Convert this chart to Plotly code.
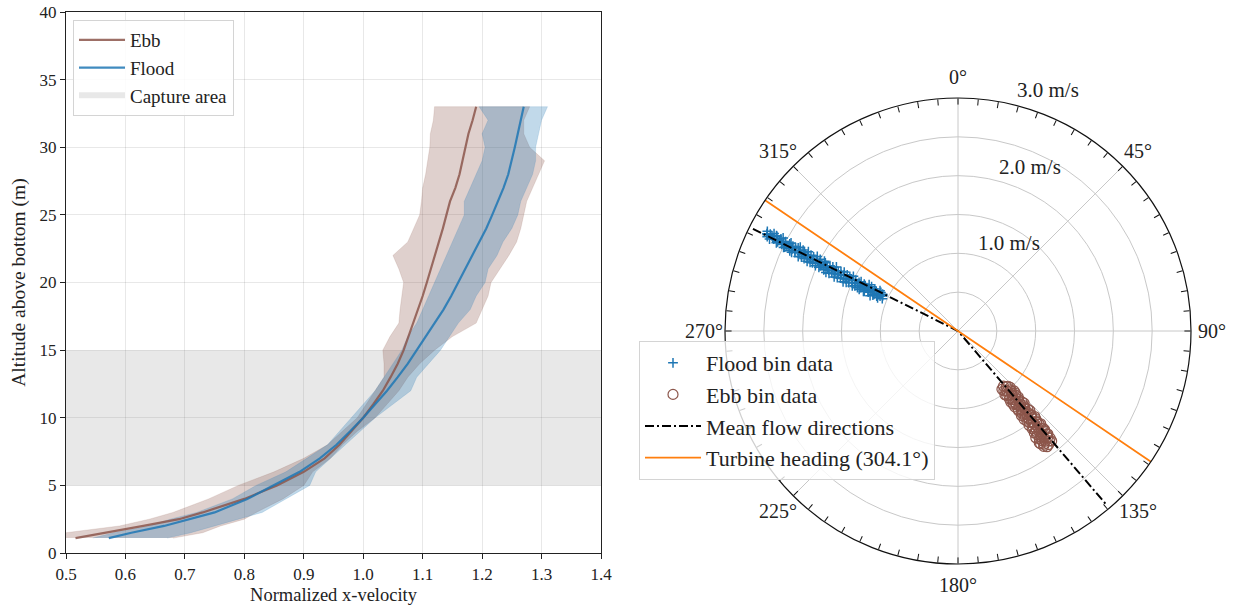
import plotly.graph_objects as go
import math

# ---------------- Left panel data: velocity profiles ----------------
altitude = [1.1, 1.5, 2, 2.5, 3, 4, 5, 6, 7, 8, 9, 10, 11, 12, 13, 14, 15, 16, 17, 18,
            19, 20, 21, 22, 23, 24, 25, 26, 27, 28, 29, 30, 31, 32, 33]

ebb_mean = [0.516, 0.57, 0.63, 0.69, 0.73, 0.80, 0.855, 0.90, 0.935, 0.96, 0.98, 1.0,
            1.017, 1.033, 1.046, 1.058, 1.068, 1.076, 1.085, 1.093, 1.100, 1.107, 1.114,
            1.12, 1.127, 1.134, 1.14, 1.146, 1.155, 1.162, 1.167, 1.172, 1.177, 1.184, 1.19]
ebb_low = [0.47, 0.50, 0.59, 0.64, 0.68, 0.74, 0.79, 0.85, 0.90, 0.94, 0.965, 0.99,
           1.005, 1.02, 1.035, 1.035, 1.033, 1.045, 1.06, 1.062, 1.065, 1.068, 1.06,
           1.05, 1.075, 1.085, 1.095, 1.098, 1.10, 1.105, 1.108, 1.112, 1.113, 1.118, 1.12]
ebb_high = [0.68, 0.73, 0.76, 0.80, 0.82, 0.865, 0.90, 0.915, 0.945, 0.965, 0.99, 1.02,
            1.04, 1.06, 1.075, 1.095, 1.12, 1.15, 1.19, 1.20, 1.21, 1.215, 1.23, 1.245,
            1.258, 1.265, 1.27, 1.275, 1.285, 1.295, 1.305, 1.28, 1.27, 1.27, 1.28]

flood_mean = [0.572, 0.61, 0.665, 0.71, 0.75, 0.805, 0.85, 0.893, 0.927, 0.955, 0.978,
              1.0, 1.02, 1.04, 1.058, 1.075, 1.09, 1.105, 1.12, 1.135, 1.148, 1.16, 1.172,
              1.184, 1.196, 1.207, 1.217, 1.227, 1.236, 1.244, 1.25, 1.255, 1.26, 1.265, 1.27]
flood_low = [0.545, 0.58, 0.64, 0.675, 0.72, 0.78, 0.82, 0.87, 0.905, 0.94, 0.96, 0.98,
             1.0, 1.02, 1.035, 1.05, 1.065, 1.075, 1.09, 1.10, 1.11, 1.12, 1.13, 1.14,
             1.15, 1.16, 1.17, 1.17, 1.18, 1.19, 1.20, 1.205, 1.20, 1.21, 1.195]
flood_high = [0.67, 0.71, 0.75, 0.79, 0.83, 0.87, 0.91, 0.92, 0.945, 0.97, 0.995, 1.02,
              1.05, 1.08, 1.09, 1.11, 1.13, 1.145, 1.16, 1.18, 1.19, 1.205, 1.21, 1.225,
              1.235, 1.25, 1.26, 1.265, 1.275, 1.285, 1.29, 1.29, 1.295, 1.30, 1.31]

capture_alt = [5, 15]
x_limits = [0.5, 1.4]
y_limits = [0, 40]

# ---------------- Right panel data: polar scatter ----------------
flood_speed = [1.06, 1.08, 1.10, 1.12, 1.13, 1.15, 1.18, 1.20, 1.22, 1.24, 1.27, 1.29,
               1.31, 1.33, 1.36, 1.38, 1.40, 1.43, 1.45, 1.47, 1.50, 1.52, 1.55, 1.57,
               1.60, 1.62, 1.65, 1.67, 1.70, 1.72, 1.75, 1.77, 1.80, 1.82, 1.85, 1.87,
               1.90, 1.92, 1.95, 1.97, 2.00, 2.03, 2.05, 2.08, 2.10, 2.13, 2.15, 2.18,
               2.20, 2.23, 2.25, 2.28, 2.30, 2.33, 2.35, 2.38, 2.40, 2.43, 2.45, 2.48,
               2.50, 2.53, 2.55, 2.58, 2.60, 2.63, 2.65, 2.68, 2.70, 2.72, 2.75, 2.77,
               1.07, 1.11, 1.14, 1.17, 1.19, 1.21, 1.25, 1.26, 1.30, 1.32, 1.35, 1.37,
               1.41, 1.42, 1.46, 1.48, 1.51, 1.54, 1.56, 1.59, 1.61, 1.64, 1.66, 1.69,
               1.71, 1.74, 1.76, 1.79, 1.81, 1.84, 1.86, 1.89, 1.91, 1.94, 1.96, 1.99,
               2.02, 2.04, 2.07, 2.09, 2.12, 2.14, 2.17, 2.19, 2.22, 2.24, 2.27, 2.29,
               2.32, 2.34, 2.37, 2.39, 2.42, 2.44, 2.47, 2.49, 2.52, 2.54, 2.57, 2.59,
               2.62, 2.64, 2.67, 2.69, 2.74, 2.76]
flood_dir = [293.1, 296.0, 294.2, 292.4, 297.3, 295.0, 293.6, 296.8, 291.9, 295.6, 294.1,
             297.5, 293.0, 296.1, 294.8, 292.8, 297.0, 295.3, 293.7, 296.5, 294.4, 297.6,
             295.1, 293.5, 296.9, 294.6, 297.4, 295.8, 293.9, 296.4, 294.9, 297.8, 295.5,
             294.1, 297.0, 295.9, 294.5, 297.2, 296.0, 294.6, 297.5, 295.4, 297.9, 296.2,
             294.9, 297.3, 295.8, 297.9, 296.6, 295.3, 297.6, 296.1, 298.0, 295.7, 297.2,
             296.4, 295.5, 297.8, 296.7, 295.8, 297.4, 296.2, 298.0, 296.9, 295.9, 297.6,
             296.5, 297.9, 296.0, 297.3, 296.8, 297.6,
             295.0, 296.6, 293.3, 295.9, 292.9, 294.9, 297.1, 293.4, 295.4, 292.7, 296.6,
             294.0, 293.3, 296.2, 295.0, 293.1, 295.9, 293.9, 296.8, 294.9, 293.2, 296.0,
             294.2, 296.9, 295.2, 293.6, 296.1, 294.7, 297.1, 295.2, 293.9, 296.4, 295.1,
             297.6, 295.4, 296.3, 294.6, 296.8, 295.1, 297.2, 296.0, 294.8, 296.5, 295.2,
             297.1, 296.0, 295.0, 296.9, 297.5, 296.2, 295.3, 297.2, 296.1, 297.4, 296.4,
             295.6, 297.1, 296.5, 297.5, 296.3, 296.9, 297.7, 296.6, 297.1, 296.3, 297.0]

ebb_speed = [0.95, 0.97, 0.99, 1.00, 1.02, 1.03, 1.05, 1.06, 1.08, 1.10, 1.11, 1.13,
             1.15, 1.16, 1.18, 1.20, 1.21, 1.23, 1.25, 1.27, 1.28, 1.30, 1.32, 1.34,
             1.35, 1.37, 1.39, 1.41, 1.43, 1.45, 1.47, 1.49, 1.51, 1.53, 1.55, 1.57,
             1.59, 1.61, 1.63, 1.65, 1.67, 1.69, 1.71, 1.73, 1.75, 1.77, 1.79, 1.81,
             1.84, 1.87, 1.85, 1.80,
             0.92, 0.94, 0.96, 0.98, 1.01, 1.04, 1.07, 1.09, 1.12, 1.14, 1.17, 1.19,
             1.22, 1.24, 1.26, 1.29, 1.31, 1.33, 1.36, 1.38, 1.40, 1.42, 1.44, 1.46,
             1.48, 1.50, 1.52, 1.54, 1.56, 1.58, 1.60, 1.62, 1.64, 1.66, 1.68, 1.70,
             1.72, 1.74, 1.76, 1.78, 1.82, 1.83, 1.86, 1.88, 1.78, 1.70]
ebb_dir = [139.0, 142.5, 137.2, 140.8, 143.6, 138.4, 141.5, 136.9, 139.9, 142.9, 138.0,
           141.1, 137.6, 140.3, 143.0, 139.1, 141.8, 137.9, 140.6, 142.6, 138.6, 141.2,
           139.4, 142.2, 138.2, 140.9, 139.3, 142.0, 138.8, 141.3, 139.6, 142.1, 138.5,
           140.7, 139.2, 141.9, 138.9, 140.4, 142.3, 139.5, 141.0, 138.7, 140.8, 142.0,
           139.3, 141.2, 139.8, 141.6, 140.2, 141.4, 143.4, 143.8,
           140.5, 143.0, 137.8, 141.0, 138.5, 142.9, 139.2, 137.3, 141.9, 143.4, 138.5,
           141.4, 143.2, 139.5, 137.5, 142.8, 138.9, 140.6, 143.1, 137.9, 140.5, 143.2,
           139.0, 142.6, 138.1, 141.0, 143.0, 138.8, 140.6, 142.8, 138.3, 141.5, 143.2,
           138.8, 142.5, 139.1, 141.5, 143.0, 138.9, 142.5, 139.3, 142.8, 139.6, 142.4,
           144.0, 143.9]

mean_flood_dir = 296.5
mean_ebb_dir = 139.5
mean_line_len = 2.95
turbine_heading = 304.1
r_max = 3.0
r_grid = [0.5, 1.0, 1.5, 2.0, 2.5, 3.0]
r_labels = [1.0, 2.0, 3.0]
spoke_angles = [0, 45, 90, 135]
angle_labels = [0, 45, 90, 135, 180, 225, 270, 315]

# ---------------- Styling ----------------
FONT = "Liberation Serif"
TXT = "#222222"
BROWN = "#8c564b"
BLUE = "#1f77b4"
ORANGE = "#ff7f0e"
W, H = 1237, 611

fig = go.Figure()

# capture area
fig.add_trace(go.Scatter(
    x=[x_limits[0], x_limits[1], x_limits[1], x_limits[0], x_limits[0]],
    y=[capture_alt[0], capture_alt[0], capture_alt[1], capture_alt[1], capture_alt[0]],
    fill="toself", fillcolor="rgba(140,140,140,0.2)", mode="none",
    name="Capture area", legend="legend", legendrank=3, hoverinfo="skip"))

# bands
fig.add_trace(go.Scatter(
    x=ebb_low + ebb_high[::-1], y=altitude + altitude[::-1],
    fill="toself", fillcolor="rgba(140,86,75,0.28)", mode="lines",
    line=dict(width=0.6, color="rgba(140,86,75,0.25)"), showlegend=False, hoverinfo="skip"))
fig.add_trace(go.Scatter(
    x=flood_low + flood_high[::-1], y=altitude + altitude[::-1],
    fill="toself", fillcolor="rgba(31,119,180,0.28)", mode="lines",
    line=dict(width=0.6, color="rgba(31,119,180,0.25)"), showlegend=False, hoverinfo="skip"))

# mean lines
fig.add_trace(go.Scatter(x=ebb_mean, y=altitude, mode="lines", name="Ebb",
                         line=dict(color="rgba(140,86,75,0.85)", width=2.2),
                         legend="legend", legendrank=1))
fig.add_trace(go.Scatter(x=flood_mean, y=altitude, mode="lines", name="Flood",
                         line=dict(color="rgba(31,119,180,0.85)", width=2.2),
                         legend="legend", legendrank=2))

# polar spokes (angular gridlines)
for a in spoke_angles:
    fig.add_trace(go.Scatterpolar(r=[r_max, 0, r_max], theta=[a, 0, a + 180], mode="lines",
                                  line=dict(color="#c8c8c8", width=1), showlegend=False,
                                  hoverinfo="skip", subplot="polar"))

fig.add_trace(go.Scatterpolar(
    r=flood_speed, theta=flood_dir, mode="markers", name="Flood bin data",
    marker=dict(symbol="cross-thin", size=7, color=BLUE, line=dict(color=BLUE, width=1.5)),
    legend="legend2", legendgroup="g1", subplot="polar"))
fig.add_trace(go.Scatterpolar(
    r=ebb_speed, theta=ebb_dir, mode="markers", name="Ebb bin data",
    marker=dict(symbol="circle-open", size=10, color=BROWN, line=dict(color=BROWN, width=1.2)),
    legend="legend2", legendgroup="g2", subplot="polar"))
fig.add_trace(go.Scatterpolar(
    r=[mean_line_len, 0, mean_line_len], theta=[mean_flood_dir, 0, mean_ebb_dir],
    mode="lines", name="Mean flow directions",
    line=dict(color="black", width=2, dash="9px,3px,2px,3px"),
    legend="legend2", legendgroup="g3", subplot="polar"))
fig.add_trace(go.Scatterpolar(
    r=[r_max, 0, r_max], theta=[turbine_heading, 0, turbine_heading - 180],
    mode="lines", name=f"Turbine heading ({turbine_heading}°)",
    line=dict(color=ORANGE, width=1.8),
    legend="legend2", legendgroup="g4", subplot="polar"))

# ---------------- Layout ----------------
x_dom = [66 / W, 601 / W]
y_dom = [(H - 553) / H, (H - 12) / H]

cx, cy, rad = 958, 331, 233
p_x = [(cx - rad) / W, (cx + rad) / W]
p_y = [(H - cy - rad) / H, (H - cy + rad) / H]

ang_vals = list(range(0, 360, 5))
ang_text = ["" for v in ang_vals]

fig.update_layout(
    width=W, height=H, margin=dict(l=0, r=0, t=0, b=0, autoexpand=False),
    paper_bgcolor="white", plot_bgcolor="white",
    font=dict(family=FONT, color=TXT, size=17),
    xaxis=dict(domain=x_dom, range=x_limits, dtick=0.1, tick0=0.5, tickformat=".1f",
               showgrid=True, gridcolor="rgba(0,0,0,0.09)", gridwidth=1,
               showline=True, linecolor="#222", linewidth=1.3, mirror=True,
               ticks="outside", ticklen=5, tickcolor="#222", zeroline=False,
               tickfont=dict(size=17),
               title=dict(text="Normalized x-velocity", font=dict(size=18.5), standoff=5)),
    yaxis=dict(domain=y_dom, range=y_limits, dtick=5,
               showgrid=True, gridcolor="rgba(0,0,0,0.09)", gridwidth=1,
               showline=True, linecolor="#222", linewidth=1.3, mirror=True,
               ticks="outside", ticklen=5, tickcolor="#222", zeroline=False,
               tickfont=dict(size=17),
               title=dict(text="Altitude above bottom (m)", font=dict(size=19.5), standoff=8)),
    polar=dict(
        domain=dict(x=p_x, y=p_y), bgcolor="white",
        angularaxis=dict(rotation=90, direction="clockwise", tickmode="array",
                         tickvals=ang_vals, ticktext=ang_text, ticks="inside", ticklen=6,
                         tickcolor="#111", showgrid=False, showline=True,
                         linecolor="#111", linewidth=1.2, tickfont=dict(size=20)),
        radialaxis=dict(range=[0, r_max], tickmode="array", tickvals=r_grid,
                        showticklabels=False, ticks="", showline=False,
                        gridcolor="#c8c8c8", gridwidth=1)),
    legend=dict(x=73 / W, y=1 - 20 / H, xanchor="left", yanchor="top",
                bgcolor="rgba(255,255,255,0.85)", bordercolor="#d4d4d4", borderwidth=1,
                font=dict(size=19), itemwidth=46, traceorder="normal"),
    legend2=dict(x=639 / W, y=1 - 341 / H, xanchor="left", yanchor="top",
                 bgcolor="rgba(255,255,255,0.8)", bordercolor="#d4d4d4", borderwidth=1,
                 font=dict(size=22), itemwidth=56, traceorder="grouped",
                 tracegroupgap=0),
    showlegend=True,
)

px_per_unit = rad / r_max

# angular labels
for a in angle_labels:
    rp = 254
    xp = cx + rp * math.sin(math.radians(a))
    yp = cy - rp * math.cos(math.radians(a))
    fig.add_annotation(x=xp / W, y=1 - yp / H, xref="paper", yref="paper",
                       text=f"{a}°", showarrow=False,
                       font=dict(size=20, color=TXT), xanchor="center", yanchor="middle")

# radial labels placed beside the rings
label_bearing = [30.0, 23.5, 20.5]
for val, b in zip(r_labels, label_bearing):
    rp = val * px_per_unit + 24
    xp = cx + rp * math.sin(math.radians(b))
    yp = cy - rp * math.cos(math.radians(b))
    fig.add_annotation(x=xp / W, y=1 - yp / H, xref="paper", yref="paper",
                       text=f"{val:.1f} m/s", showarrow=False,
                       font=dict(size=21, color=TXT), xanchor="center", yanchor="middle")

fig.write_html("out.html")
